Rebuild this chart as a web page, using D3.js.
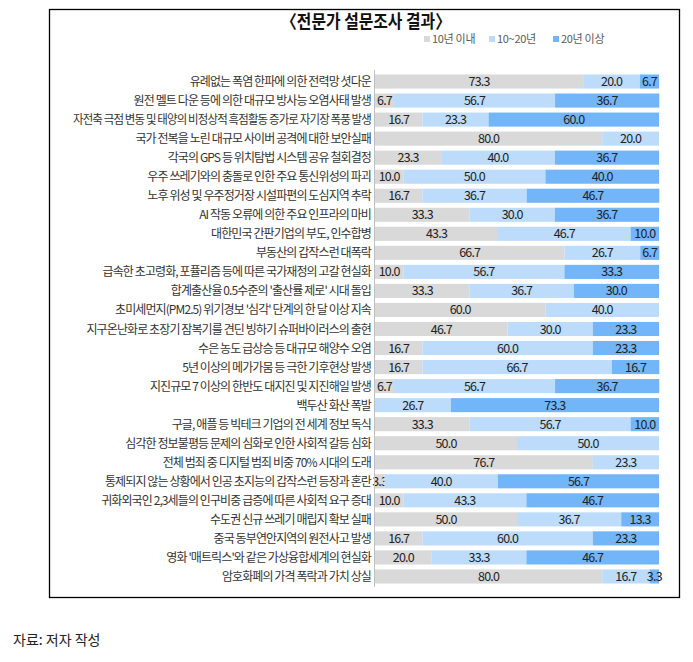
<!DOCTYPE html>
<html>
<head>
<meta charset="utf-8">
<script src="https://cdn.jsdelivr.net/npm/d3@7"></script>
<style>
  body { margin: 0; background: #fff; }
  svg text { font-family: "Noto Sans CJK KR", "Noto Sans", sans-serif; }
</style>
</head>
<body>
<div class="chart"></div>
<script>
var categories = [
    "유례없는 폭염 한파에 의한 전력망 셧다운",
    "원전 멜트 다운 등에 의한 대규모 방사능 오염사태 발생",
    "자전축 극점 변동 및 태양의 비정상적 흑점활동 증가로 자기장 폭풍 발생",
    "국가 전복을 노린 대규모 사이버 공격에 대한 보안실패",
    "각국의 GPS 등 위치탐법 시스템 공유 철회결정",
    "우주 쓰레기와의 충돌로 인한 주요 통신위성의 파괴",
    "노후 위성 및 우주정거장 시설파편의 도심지역 추락",
    "AI 작동 오류에 의한 주요 인프라의 마비",
    "대한민국 간판기업의 부도, 인수합병",
    "부동산의 갑작스런 대폭락",
    "급속한 초고령화, 포퓰리즘 등에 따른 국가재정의 고갈 현실화",
    "합계출산율 0.5수준의 '출산률 제로' 시대 돌입",
    "초미세먼지(PM2.5) 위기경보 '심각' 단계의 한 달 이상 지속",
    "지구온난화로 초장기 잠복기를 견딘 빙하기 슈퍼바이러스의 출현",
    "수은 농도 급상승 등 대규모 해양수 오염",
    "5년 이상의 메가가뭄 등 극한 기후현상 발생",
    "지진규모 7 이상의 한반도 대지진 및 지진해일 발생",
    "백두산 화산 폭발",
    "구글, 애플 등 빅테크 기업의 전 세계 정보 독식",
    "심각한 정보불평등 문제의 심화로 인한 사회적 갈등 심화",
    "전체 범죄 중 디지털 범죄 비중 70% 시대의 도래",
    "통제되지 않는 상황에서 인공 초지능의 갑작스런 등장과 혼란",
    "귀화외국인 2,3세들의 인구비중 급증에 따른 사회적 요구 증대",
    "수도권 신규 쓰레기 매립지 확보 실패",
    "중국 동부연안지역의 원전사고 발생",
    "영화 '매트릭스'와 같은 가상융합세계의 현실화",
    "암호화폐의 가격 폭락과 가치 상실"
];
var under10 = [73.3, 6.7, 16.7, 80.0, 23.3, 10.0, 16.7, 33.3, 43.3, 66.7, 10.0, 33.3, 60.0, 46.7,
               16.7, 16.7, 6.7, 0, 33.3, 50.0, 76.7, 3.3, 10.0, 50.0, 16.7, 20.0, 80.0];
var from10to20 = [20.0, 56.7, 23.3, 20.0, 40.0, 50.0, 36.7, 30.0, 46.7, 26.7, 56.7, 36.7, 40.0, 30.0,
                  60.0, 66.7, 56.7, 26.7, 56.7, 50.0, 23.3, 40.0, 43.3, 36.7, 60.0, 33.3, 16.7];
var over20 = [6.7, 36.7, 60.0, 0, 36.7, 40.0, 46.7, 36.7, 10.0, 6.7, 33.3, 30.0, 0, 23.3,
              23.3, 16.7, 36.7, 73.3, 10.0, 0, 0, 56.7, 46.7, 13.3, 23.3, 46.7, 3.3];
var seriesNames = ["10년 이내", "10~20년", "20년 이상"];
var seriesColors = ["#d9d9d9", "#bddcfb", "#72b5f9"];

var width = 693,
    height = 662;

var svg = d3.select(".chart").append("svg")
    .attr("width", width)
    .attr("height", height);

// frame
svg.append("rect")
    .attr("x", 49.5).attr("y", 9.5)
    .attr("width", 630).attr("height", 588)
    .style("fill", "none")
    .style("stroke", "#000")
    .style("stroke-width", 1.3);

svg.append("text")
    .attr("x", 366).attr("y", 28)
    .attr("text-anchor", "middle")
    .attr("textLength", 170)
    .attr("lengthAdjust", "spacingAndGlyphs")
    .style("font-size", "18px")
    .style("font-weight", "bold")
    .style("fill", "#111")
    .text("〈전문가 설문조사 결과〉");

var x = d3.scaleLinear().domain([0, 100]).range([375, 659]);
var y = d3.scaleBand().domain(categories).range([72, 586]).paddingInner(0.26).paddingOuter(0.13);

var rows = categories.map(function(c, i) {
    return { name: c, 0: under10[i], 1: from10to20[i], 2: over20[i] };
});
var stacked = d3.stack().keys([0, 1, 2])(rows);

var layers = svg.selectAll("g.layer").data(stacked).enter().append("g")
    .attr("class", "layer")
    .style("fill", function(d, i) { return seriesColors[i]; });

layers.selectAll("rect").data(function(d) { return d; }).enter().append("rect")
    .attr("x", function(d) { return x(d[0]); })
    .attr("y", function(d) { return y(d.data.name); })
    .attr("width", function(d) { return x(d[1]) - x(d[0]); })
    .attr("height", y.bandwidth());

layers.selectAll("text").data(function(d) { return d.filter(function(e) { return e[1] - e[0] > 0; }); })
    .enter().append("text")
    .attr("x", function(d) { return (x(d[0]) + x(d[1])) / 2; })
    .attr("y", function(d) { return y(d.data.name) + y.bandwidth() / 2 + 4.5; })
    .attr("text-anchor", "middle")
    .style("font-size", "12.5px")
    .style("letter-spacing", "-0.8px")
    .style("fill", "#222")
    .text(function(d) { return (d[1] - d[0]).toFixed(1); });

// category labels
var maxLabel = 298;
svg.selectAll("text.cat").data(categories).enter().append("text")
    .attr("class", "cat")
    .attr("x", 371)
    .attr("y", function(d) { return y(d) + y.bandwidth() / 2 + 4.5; })
    .attr("text-anchor", "end")
    .style("font-size", "12px")
    .style("letter-spacing", "-0.9px")
    .style("fill", "#333")
    .text(function(d) { return d; })
    .each(function() {
        var w = this.getComputedTextLength();
        if (w > maxLabel) {
            d3.select(this).attr("textLength", maxLabel).attr("lengthAdjust", "spacingAndGlyphs");
        }
    });

// axis line
svg.append("line")
    .attr("x1", 374.5).attr("x2", 374.5)
    .attr("y1", 70).attr("y2", 587)
    .style("stroke", "#bfbfbf")
    .style("stroke-width", 1);

// legend
var legendX = [424, 489, 553];
var legend = svg.selectAll("g.legend").data(seriesNames).enter().append("g")
    .attr("class", "legend")
    .attr("transform", function(d, i) { return "translate(" + legendX[i] + ",39)"; });
legend.append("rect")
    .attr("x", 0).attr("y", -3)
    .attr("width", 6).attr("height", 6)
    .style("fill", function(d, i) { return seriesColors[i]; });
legend.append("text")
    .attr("x", 8).attr("y", 4)
    .style("font-size", "11px")
    .style("letter-spacing", "-0.3px")
    .style("fill", "#595959")
    .text(function(d) { return d; });

svg.append("text")
    .attr("x", 13).attr("y", 645)
    .style("font-size", "14px")
    .style("fill", "#222")
    .text("자료: 저자 작성");
</script>
</body>
</html>
